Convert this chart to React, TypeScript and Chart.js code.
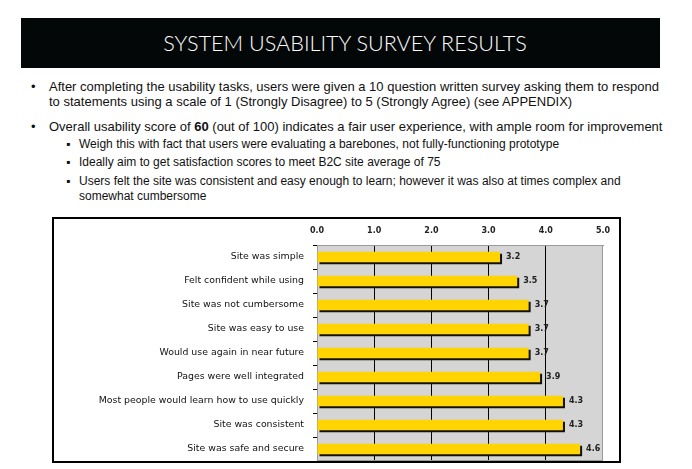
import React, { useEffect, useRef } from "react";
import { Chart, registerables } from "chart.js";

Chart.register(...registerables);

const categories = [
  "Site was simple",
  "Felt confident while using",
  "Site was not cumbersome",
  "Site was easy to use",
  "Would use again in near future",
  "Pages were well integrated",
  "Most people would learn how to use quickly",
  "Site was consistent",
  "Site was safe and secure",
];
const scores = [3.2, 3.5, 3.7, 3.7, 3.7, 3.9, 4.3, 4.3, 4.6];
const axisMin = 0;
const axisMax = 5;
const axisStep = 1;

const title = "SYSTEM USABILITY SURVEY RESULTS";

const plotBg = {
  id: "plotBg",
  beforeDraw(chart: any) {
    const { ctx, chartArea } = chart;
    const { left, top, right, bottom } = chartArea;
    ctx.save();
    ctx.fillStyle = "#d5d5d5";
    ctx.fillRect(left, top, right - left, bottom - top);
    ctx.restore();
  },
  beforeDatasetsDraw(chart: any) {
    const { ctx, chartArea } = chart;
    const { left, top, right, bottom } = chartArea;
    ctx.save();
    ctx.strokeStyle = "#9a9a9a";
    ctx.lineWidth = 1;
    ctx.strokeRect(left + 0.5, top + 0.5, right - left - 1, bottom - top - 1);
    ctx.restore();
  },
};

const barShadow = {
  id: "barShadow",
  beforeDatasetDraw(chart: any) {
    const ctx = chart.ctx;
    const r = chart.currentDevicePixelRatio || 1;
    ctx.save();
    ctx.shadowColor = "#111";
    ctx.shadowOffsetX = 2 * r;
    ctx.shadowOffsetY = 2 * r;
    ctx.shadowBlur = 0;
  },
  afterDatasetDraw(chart: any) {
    chart.ctx.restore();
  },
};

const valueLabels = {
  id: "valueLabels",
  afterDatasetsDraw(chart: any) {
    const ctx = chart.ctx;
    const meta = chart.getDatasetMeta(0);
    const data = chart.data.datasets[0].data;
    ctx.save();
    ctx.font = "bold 8px 'DejaVu Sans'";
    ctx.fillStyle = "#222";
    ctx.textAlign = "left";
    ctx.textBaseline = "middle";
    meta.data.forEach((el: any, i: number) => {
      ctx.fillText(Number(data[i]).toFixed(1), el.x + 6, el.y);
    });
    ctx.restore();
  },
};

function BarChart() {
  const ref = useRef<HTMLCanvasElement | null>(null);
  useEffect(() => {
    if (!ref.current) return;
    const chart = new Chart(ref.current, {
      type: "bar",
      data: {
        labels: categories,
        datasets: [
          {
            data: scores,
            backgroundColor: "#ffd400",
            borderWidth: 0,
            categoryPercentage: 1,
            barPercentage: 0.43,
          },
        ],
      },
      options: {
        indexAxis: "y",
        animation: false,
        responsive: false,
        layout: { padding: { left: 0, right: 16, top: 0, bottom: 0 } },
        plugins: {
          legend: { display: false },
          tooltip: { enabled: false },
        },
        scales: {
          x: {
            position: "top",
            min: axisMin,
            max: axisMax,
            ticks: {
              stepSize: axisStep,
              padding: 9,
              color: "#222",
              font: { family: "'DejaVu Sans'", size: 8, weight: "bold" },
              callback: (v: any) => Number(v).toFixed(1),
            },
            grid: {
              drawTicks: false,
              color: (c: any) =>
                c.tick && (c.tick.value === axisMin || c.tick.value === axisMax)
                  ? "rgba(0,0,0,0)"
                  : "#000",
              lineWidth: 1,
            },
            border: { display: true, color: "#9a9a9a", width: 1 },
            afterFit: (s: any) => {
              s.height = 26;
              s.paddingLeft = 0;
              s.paddingRight = 0;
            },
          },
          y: {
            ticks: {
              padding: 9,
              color: "#111",
              font: { family: "'DejaVu Sans'", size: 9.4 },
            },
            grid: {
              drawOnChartArea: false,
              drawTicks: true,
              tickLength: 4,
              color: "#000",
              offset: true,
            },
            border: { display: true, color: "#9a9a9a", width: 1 },
            afterFit: (s: any) => {
              s.width = 263;
              s.paddingTop = 0;
              s.paddingBottom = 0;
            },
          },
        },
      },
      plugins: [plotBg, barShadow, valueLabels],
    } as any);
    return () => chart.destroy();
  }, []);
  return <canvas ref={ref} width={565} height={242} style={{ display: "block" }} />;
}

const bodyFont = "'Liberation Sans', Arial, sans-serif";

export default function App() {
  useEffect(() => {
    document.body.style.margin = "0";
  }, []);
  const p: React.CSSProperties = {
    position: "absolute",
    whiteSpace: "nowrap",
    fontFamily: bodyFont,
    color: "#111",
  };
  const main: React.CSSProperties = { ...p, fontSize: 13, lineHeight: "15px" };
  const sub: React.CSSProperties = { ...p, fontSize: 12, lineHeight: "15px" };
  return (
    <div style={{ position: "relative", width: 692, height: 469, background: "#fff", overflow: "hidden" }}>
      <div
        style={{
          position: "absolute",
          left: 21,
          top: 18,
          width: 639,
          height: 50,
          boxSizing: "border-box",
          paddingLeft: 9,
          background: "#030708",
          color: "#fff",
          display: "flex",
          alignItems: "center",
          justifyContent: "center",
          fontFamily: "Lato, 'Liberation Sans', sans-serif",
          fontWeight: 300,
          fontSize: 21.6,
        }}
      >
        {title}
      </div>

      <div style={{ ...main, left: 31, top: 79 }}>•</div>
      <div style={{ ...main, left: 49, top: 79 }}>
        After completing the usability tasks, users were given a 10 question written survey asking them to respond
        <br />
        to statements using a scale of 1 (Strongly Disagree) to 5 (Strongly Agree) (see APPENDIX)
      </div>

      <div style={{ ...main, left: 31, top: 119 }}>•</div>
      <div style={{ ...main, left: 49, top: 119 }}>
        Overall usability score of <b>60</b> (out of 100) indicates a fair user experience, with ample room for improvement
      </div>

      <div style={{ ...sub, left: 66, top: 137 }}>▪</div>
      <div style={{ ...sub, left: 79, top: 137 }}>
        Weigh this with fact that users were evaluating a barebones, not fully-functioning prototype
      </div>

      <div style={{ ...sub, left: 66, top: 155 }}>▪</div>
      <div style={{ ...sub, left: 79, top: 155 }}>
        Ideally aim to get satisfaction scores to meet B2C site average of 75
      </div>

      <div style={{ ...sub, left: 66, top: 174 }}>▪</div>
      <div style={{ ...sub, left: 79, top: 174 }}>
        Users felt the site was consistent and easy enough to learn; however it was also at times complex and
        <br />
        somewhat cumbersome
      </div>

      <div
        style={{
          position: "absolute",
          left: 52,
          top: 217,
          width: 569,
          height: 246,
          border: "2px solid #000",
          boxSizing: "border-box",
          background: "#fff",
        }}
      >
        <BarChart />
      </div>
    </div>
  );
}
